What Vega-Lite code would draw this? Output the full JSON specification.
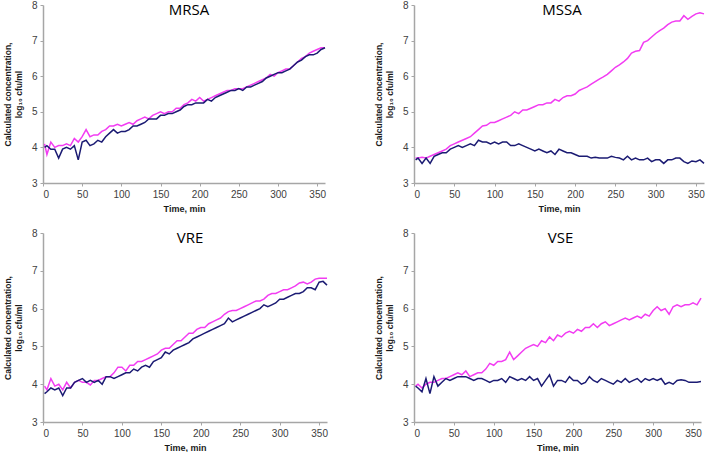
{
"$schema": "https://vega.github.io/schema/vega-lite/v6.json",
"background": "white",
"padding": {"left": 3, "top": 0, "right": 0, "bottom": 0},
"config": {
  "view": {"stroke": null},
  "axis": {"grid": false, "domainColor": "#a6a6a6", "domainWidth": 1.5, "tickColor": "#a6a6a6", "tickSize": 3, "labelFont": "Liberation Sans", "labelFontSize": 10, "labelColor": "#404040", "labelPadding": 3, "titleFont": "Liberation Sans", "titleFontSize": 8.5, "titleFontWeight": "bold", "titleColor": "#1a1a1a"},
  "axisX": {"titlePadding": 5, "titleFontSize": 9},
  "axisY": {"titlePadding": 8},
  "title": {"font": "Open Sans", "fontSize": 15, "fontWeight": "normal", "color": "#000000", "anchor": "middle", "frame": "group", "offset": -18}
},
"datasets": {
"MRSA": [
{"s":"c","t":2,"v":4.1},{"s":"c","t":5,"v":3.8},{"s":"c","t":10,"v":4.15},{"s":"c","t":15,"v":4.0},{"s":"c","t":20,"v":4.05},{"s":"c","t":25,"v":4.05},{"s":"c","t":30,"v":4.1},{"s":"c","t":35,"v":4.05},{"s":"c","t":40,"v":4.25},{"s":"c","t":45,"v":4.15},
{"s":"c","t":50,"v":4.3},{"s":"c","t":55,"v":4.5},{"s":"c","t":60,"v":4.3},{"s":"c","t":65,"v":4.35},{"s":"c","t":70,"v":4.35},{"s":"c","t":75,"v":4.45},{"s":"c","t":80,"v":4.5},{"s":"c","t":85,"v":4.6},{"s":"c","t":90,"v":4.6},{"s":"c","t":95,"v":4.65},
{"s":"c","t":100,"v":4.6},{"s":"c","t":105,"v":4.65},{"s":"c","t":110,"v":4.7},{"s":"c","t":115,"v":4.65},{"s":"c","t":120,"v":4.75},{"s":"c","t":125,"v":4.8},{"s":"c","t":130,"v":4.85},{"s":"c","t":135,"v":4.8},{"s":"c","t":140,"v":4.9},{"s":"c","t":145,"v":4.95},
{"s":"c","t":150,"v":5.0},{"s":"c","t":155,"v":4.95},{"s":"c","t":160,"v":5.0},{"s":"c","t":165,"v":5.0},{"s":"c","t":170,"v":5.1},{"s":"c","t":175,"v":5.1},{"s":"c","t":180,"v":5.2},{"s":"c","t":185,"v":5.25},{"s":"c","t":190,"v":5.35},{"s":"c","t":195,"v":5.3},
{"s":"c","t":200,"v":5.4},{"s":"c","t":205,"v":5.3},{"s":"c","t":210,"v":5.35},{"s":"c","t":215,"v":5.4},{"s":"c","t":220,"v":5.45},{"s":"c","t":225,"v":5.5},{"s":"c","t":230,"v":5.55},{"s":"c","t":235,"v":5.6},{"s":"c","t":240,"v":5.6},{"s":"c","t":245,"v":5.65},
{"s":"c","t":250,"v":5.65},{"s":"c","t":255,"v":5.65},{"s":"c","t":260,"v":5.7},{"s":"c","t":265,"v":5.75},{"s":"c","t":270,"v":5.8},{"s":"c","t":275,"v":5.85},{"s":"c","t":280,"v":5.9},{"s":"c","t":285,"v":5.95},{"s":"c","t":290,"v":6.05},{"s":"c","t":295,"v":6.0},
{"s":"c","t":300,"v":6.1},{"s":"c","t":305,"v":6.15},{"s":"c","t":310,"v":6.2},{"s":"c","t":315,"v":6.2},{"s":"c","t":320,"v":6.3},{"s":"c","t":325,"v":6.4},{"s":"c","t":330,"v":6.5},{"s":"c","t":335,"v":6.55},{"s":"c","t":340,"v":6.65},{"s":"c","t":345,"v":6.7},
{"s":"c","t":350,"v":6.75},{"s":"c","t":355,"v":6.8},{"s":"c","t":360,"v":6.8},
{"s":"d","t":2,"v":4.0},{"s":"d","t":5,"v":4.05},{"s":"d","t":10,"v":3.95},{"s":"d","t":15,"v":3.95},{"s":"d","t":20,"v":3.7},{"s":"d","t":25,"v":3.95},{"s":"d","t":30,"v":4.0},{"s":"d","t":35,"v":3.95},{"s":"d","t":40,"v":4.05},{"s":"d","t":45,"v":3.65},
{"s":"d","t":50,"v":4.15},{"s":"d","t":55,"v":4.2},{"s":"d","t":60,"v":4.05},{"s":"d","t":65,"v":4.1},{"s":"d","t":70,"v":4.2},{"s":"d","t":75,"v":4.15},{"s":"d","t":80,"v":4.3},{"s":"d","t":85,"v":4.4},{"s":"d","t":90,"v":4.5},{"s":"d","t":95,"v":4.4},
{"s":"d","t":100,"v":4.45},{"s":"d","t":105,"v":4.45},{"s":"d","t":110,"v":4.5},{"s":"d","t":115,"v":4.6},{"s":"d","t":120,"v":4.6},{"s":"d","t":125,"v":4.65},{"s":"d","t":130,"v":4.7},{"s":"d","t":135,"v":4.8},{"s":"d","t":140,"v":4.8},{"s":"d","t":145,"v":4.8},
{"s":"d","t":150,"v":4.9},{"s":"d","t":155,"v":4.9},{"s":"d","t":160,"v":4.95},{"s":"d","t":165,"v":4.95},{"s":"d","t":170,"v":5.0},{"s":"d","t":175,"v":5.05},{"s":"d","t":180,"v":5.15},{"s":"d","t":185,"v":5.2},{"s":"d","t":190,"v":5.2},{"s":"d","t":195,"v":5.25},
{"s":"d","t":200,"v":5.25},{"s":"d","t":205,"v":5.25},{"s":"d","t":210,"v":5.35},{"s":"d","t":215,"v":5.3},{"s":"d","t":220,"v":5.4},{"s":"d","t":225,"v":5.45},{"s":"d","t":230,"v":5.5},{"s":"d","t":235,"v":5.55},{"s":"d","t":240,"v":5.6},{"s":"d","t":245,"v":5.6},
{"s":"d","t":250,"v":5.65},{"s":"d","t":255,"v":5.6},{"s":"d","t":260,"v":5.7},{"s":"d","t":265,"v":5.7},{"s":"d","t":270,"v":5.75},{"s":"d","t":275,"v":5.8},{"s":"d","t":280,"v":5.85},{"s":"d","t":285,"v":5.95},{"s":"d","t":290,"v":6.0},{"s":"d","t":295,"v":6.05},
{"s":"d","t":300,"v":6.1},{"s":"d","t":305,"v":6.1},{"s":"d","t":310,"v":6.15},{"s":"d","t":315,"v":6.2},{"s":"d","t":320,"v":6.3},{"s":"d","t":325,"v":6.4},{"s":"d","t":330,"v":6.45},{"s":"d","t":335,"v":6.55},{"s":"d","t":340,"v":6.6},{"s":"d","t":345,"v":6.6},
{"s":"d","t":350,"v":6.65},{"s":"d","t":355,"v":6.75},{"s":"d","t":360,"v":6.8}
],
"MSSA": [
{"s":"c","t":2,"v":3.7},{"s":"c","t":5,"v":3.7},{"s":"c","t":10,"v":3.72},{"s":"c","t":15,"v":3.7},{"s":"c","t":20,"v":3.75},{"s":"c","t":25,"v":3.8},{"s":"c","t":30,"v":3.85},{"s":"c","t":35,"v":3.9},{"s":"c","t":40,"v":3.95},{"s":"c","t":45,"v":4.05},
{"s":"c","t":50,"v":4.1},{"s":"c","t":55,"v":4.15},{"s":"c","t":60,"v":4.2},{"s":"c","t":65,"v":4.25},{"s":"c","t":70,"v":4.3},{"s":"c","t":75,"v":4.4},{"s":"c","t":80,"v":4.5},{"s":"c","t":85,"v":4.6},{"s":"c","t":90,"v":4.62},{"s":"c","t":95,"v":4.7},
{"s":"c","t":100,"v":4.7},{"s":"c","t":105,"v":4.75},{"s":"c","t":110,"v":4.8},{"s":"c","t":115,"v":4.85},{"s":"c","t":120,"v":4.9},{"s":"c","t":125,"v":5.0},{"s":"c","t":130,"v":4.95},{"s":"c","t":135,"v":5.05},{"s":"c","t":140,"v":5.05},{"s":"c","t":145,"v":5.1},
{"s":"c","t":150,"v":5.15},{"s":"c","t":155,"v":5.2},{"s":"c","t":160,"v":5.2},{"s":"c","t":165,"v":5.25},{"s":"c","t":170,"v":5.25},{"s":"c","t":175,"v":5.35},{"s":"c","t":180,"v":5.3},{"s":"c","t":185,"v":5.4},{"s":"c","t":190,"v":5.45},{"s":"c","t":195,"v":5.45},
{"s":"c","t":200,"v":5.5},{"s":"c","t":205,"v":5.6},{"s":"c","t":210,"v":5.65},{"s":"c","t":215,"v":5.7},{"s":"c","t":220,"v":5.78},{"s":"c","t":225,"v":5.85},{"s":"c","t":230,"v":5.92},{"s":"c","t":235,"v":5.98},{"s":"c","t":240,"v":6.05},{"s":"c","t":245,"v":6.15},
{"s":"c","t":250,"v":6.25},{"s":"c","t":255,"v":6.32},{"s":"c","t":260,"v":6.4},{"s":"c","t":265,"v":6.5},{"s":"c","t":270,"v":6.65},{"s":"c","t":275,"v":6.7},{"s":"c","t":280,"v":6.72},{"s":"c","t":285,"v":6.95},{"s":"c","t":290,"v":7.0},{"s":"c","t":295,"v":7.1},
{"s":"c","t":300,"v":7.2},{"s":"c","t":305,"v":7.28},{"s":"c","t":310,"v":7.35},{"s":"c","t":315,"v":7.45},{"s":"c","t":320,"v":7.52},{"s":"c","t":325,"v":7.55},{"s":"c","t":330,"v":7.55},{"s":"c","t":335,"v":7.7},{"s":"c","t":340,"v":7.6},{"s":"c","t":345,"v":7.68},
{"s":"c","t":350,"v":7.75},{"s":"c","t":355,"v":7.78},{"s":"c","t":360,"v":7.75},
{"s":"d","t":2,"v":3.65},{"s":"d","t":5,"v":3.7},{"s":"d","t":10,"v":3.55},{"s":"d","t":15,"v":3.7},{"s":"d","t":20,"v":3.55},{"s":"d","t":25,"v":3.75},{"s":"d","t":30,"v":3.8},{"s":"d","t":35,"v":3.85},{"s":"d","t":40,"v":3.85},{"s":"d","t":45,"v":3.95},
{"s":"d","t":50,"v":4.0},{"s":"d","t":55,"v":4.05},{"s":"d","t":60,"v":4.0},{"s":"d","t":65,"v":4.05},{"s":"d","t":70,"v":4.1},{"s":"d","t":75,"v":4.05},{"s":"d","t":80,"v":4.2},{"s":"d","t":85,"v":4.15},{"s":"d","t":90,"v":4.15},{"s":"d","t":95,"v":4.1},
{"s":"d","t":100,"v":4.15},{"s":"d","t":105,"v":4.1},{"s":"d","t":110,"v":4.15},{"s":"d","t":115,"v":4.15},{"s":"d","t":120,"v":4.05},{"s":"d","t":125,"v":4.05},{"s":"d","t":130,"v":4.1},{"s":"d","t":135,"v":4.05},{"s":"d","t":140,"v":4.0},{"s":"d","t":145,"v":3.95},
{"s":"d","t":150,"v":3.9},{"s":"d","t":155,"v":3.95},{"s":"d","t":160,"v":3.9},{"s":"d","t":165,"v":3.85},{"s":"d","t":170,"v":3.9},{"s":"d","t":175,"v":3.8},{"s":"d","t":180,"v":3.95},{"s":"d","t":185,"v":3.9},{"s":"d","t":190,"v":3.85},{"s":"d","t":195,"v":3.85},
{"s":"d","t":200,"v":3.8},{"s":"d","t":205,"v":3.75},{"s":"d","t":210,"v":3.75},{"s":"d","t":215,"v":3.75},{"s":"d","t":220,"v":3.7},{"s":"d","t":225,"v":3.72},{"s":"d","t":230,"v":3.7},{"s":"d","t":235,"v":3.7},{"s":"d","t":240,"v":3.7},{"s":"d","t":245,"v":3.75},
{"s":"d","t":250,"v":3.72},{"s":"d","t":255,"v":3.7},{"s":"d","t":260,"v":3.65},{"s":"d","t":265,"v":3.75},{"s":"d","t":270,"v":3.65},{"s":"d","t":275,"v":3.7},{"s":"d","t":280,"v":3.65},{"s":"d","t":285,"v":3.65},{"s":"d","t":290,"v":3.7},{"s":"d","t":295,"v":3.6},
{"s":"d","t":300,"v":3.65},{"s":"d","t":305,"v":3.65},{"s":"d","t":310,"v":3.55},{"s":"d","t":315,"v":3.65},{"s":"d","t":320,"v":3.65},{"s":"d","t":325,"v":3.7},{"s":"d","t":330,"v":3.7},{"s":"d","t":335,"v":3.6},{"s":"d","t":340,"v":3.55},{"s":"d","t":345,"v":3.62},
{"s":"d","t":350,"v":3.6},{"s":"d","t":355,"v":3.65},{"s":"d","t":360,"v":3.55}
],
"VRE": [
{"s":"c","t":2,"v":3.95},{"s":"c","t":5,"v":3.85},{"s":"c","t":10,"v":4.15},{"s":"c","t":15,"v":3.95},{"s":"c","t":20,"v":4.0},{"s":"c","t":25,"v":3.85},{"s":"c","t":30,"v":4.05},{"s":"c","t":35,"v":3.9},{"s":"c","t":40,"v":4.05},{"s":"c","t":45,"v":4.1},
{"s":"c","t":50,"v":4.05},{"s":"c","t":55,"v":4.05},{"s":"c","t":60,"v":3.98},{"s":"c","t":65,"v":4.1},{"s":"c","t":70,"v":4.1},{"s":"c","t":75,"v":4.15},{"s":"c","t":80,"v":4.2},{"s":"c","t":85,"v":4.2},{"s":"c","t":90,"v":4.3},{"s":"c","t":95,"v":4.45},
{"s":"c","t":100,"v":4.45},{"s":"c","t":105,"v":4.35},{"s":"c","t":110,"v":4.5},{"s":"c","t":115,"v":4.5},{"s":"c","t":120,"v":4.6},{"s":"c","t":125,"v":4.6},{"s":"c","t":130,"v":4.65},{"s":"c","t":135,"v":4.7},{"s":"c","t":140,"v":4.75},{"s":"c","t":145,"v":4.8},
{"s":"c","t":150,"v":4.9},{"s":"c","t":155,"v":4.95},{"s":"c","t":160,"v":4.95},{"s":"c","t":165,"v":5.05},{"s":"c","t":170,"v":5.15},{"s":"c","t":175,"v":5.15},{"s":"c","t":180,"v":5.25},{"s":"c","t":185,"v":5.35},{"s":"c","t":190,"v":5.35},{"s":"c","t":195,"v":5.45},
{"s":"c","t":200,"v":5.5},{"s":"c","t":205,"v":5.5},{"s":"c","t":210,"v":5.6},{"s":"c","t":215,"v":5.65},{"s":"c","t":220,"v":5.7},{"s":"c","t":225,"v":5.75},{"s":"c","t":230,"v":5.85},{"s":"c","t":235,"v":5.92},{"s":"c","t":240,"v":5.95},{"s":"c","t":245,"v":5.95},
{"s":"c","t":250,"v":6.0},{"s":"c","t":255,"v":6.05},{"s":"c","t":260,"v":6.1},{"s":"c","t":265,"v":6.15},{"s":"c","t":270,"v":6.2},{"s":"c","t":275,"v":6.2},{"s":"c","t":280,"v":6.25},{"s":"c","t":285,"v":6.35},{"s":"c","t":290,"v":6.4},{"s":"c","t":295,"v":6.4},
{"s":"c","t":300,"v":6.45},{"s":"c","t":305,"v":6.5},{"s":"c","t":310,"v":6.5},{"s":"c","t":315,"v":6.55},{"s":"c","t":320,"v":6.6},{"s":"c","t":325,"v":6.68},{"s":"c","t":330,"v":6.7},{"s":"c","t":335,"v":6.65},{"s":"c","t":340,"v":6.7},{"s":"c","t":345,"v":6.78},
{"s":"c","t":350,"v":6.8},{"s":"c","t":355,"v":6.8},{"s":"c","t":360,"v":6.8},
{"s":"d","t":2,"v":3.75},{"s":"d","t":5,"v":3.8},{"s":"d","t":10,"v":3.9},{"s":"d","t":15,"v":3.85},{"s":"d","t":20,"v":3.9},{"s":"d","t":25,"v":3.7},{"s":"d","t":30,"v":3.9},{"s":"d","t":35,"v":3.9},{"s":"d","t":40,"v":4.05},{"s":"d","t":45,"v":4.1},
{"s":"d","t":50,"v":4.15},{"s":"d","t":55,"v":4.05},{"s":"d","t":60,"v":4.1},{"s":"d","t":65,"v":4.05},{"s":"d","t":70,"v":4.1},{"s":"d","t":75,"v":4.0},{"s":"d","t":80,"v":4.2},{"s":"d","t":85,"v":4.2},{"s":"d","t":90,"v":4.15},{"s":"d","t":95,"v":4.2},
{"s":"d","t":100,"v":4.25},{"s":"d","t":105,"v":4.3},{"s":"d","t":110,"v":4.3},{"s":"d","t":115,"v":4.4},{"s":"d","t":120,"v":4.35},{"s":"d","t":125,"v":4.45},{"s":"d","t":130,"v":4.5},{"s":"d","t":135,"v":4.45},{"s":"d","t":140,"v":4.6},{"s":"d","t":145,"v":4.65},
{"s":"d","t":150,"v":4.7},{"s":"d","t":155,"v":4.85},{"s":"d","t":160,"v":4.8},{"s":"d","t":165,"v":4.9},{"s":"d","t":170,"v":4.95},{"s":"d","t":175,"v":5.0},{"s":"d","t":180,"v":5.05},{"s":"d","t":185,"v":5.1},{"s":"d","t":190,"v":5.2},{"s":"d","t":195,"v":5.25},
{"s":"d","t":200,"v":5.3},{"s":"d","t":205,"v":5.35},{"s":"d","t":210,"v":5.4},{"s":"d","t":215,"v":5.45},{"s":"d","t":220,"v":5.5},{"s":"d","t":225,"v":5.55},{"s":"d","t":230,"v":5.6},{"s":"d","t":235,"v":5.75},{"s":"d","t":240,"v":5.65},{"s":"d","t":245,"v":5.7},
{"s":"d","t":250,"v":5.75},{"s":"d","t":255,"v":5.8},{"s":"d","t":260,"v":5.85},{"s":"d","t":265,"v":5.9},{"s":"d","t":270,"v":5.95},{"s":"d","t":275,"v":6.0},{"s":"d","t":280,"v":6.1},{"s":"d","t":285,"v":6.05},{"s":"d","t":290,"v":6.1},{"s":"d","t":295,"v":6.15},
{"s":"d","t":300,"v":6.25},{"s":"d","t":305,"v":6.25},{"s":"d","t":310,"v":6.3},{"s":"d","t":315,"v":6.35},{"s":"d","t":320,"v":6.4},{"s":"d","t":325,"v":6.4},{"s":"d","t":330,"v":6.45},{"s":"d","t":335,"v":6.55},{"s":"d","t":340,"v":6.55},{"s":"d","t":345,"v":6.5},
{"s":"d","t":350,"v":6.7},{"s":"d","t":355,"v":6.72},{"s":"d","t":360,"v":6.62}
],
"VSE": [
{"s":"c","t":2,"v":3.95},{"s":"c","t":5,"v":4.0},{"s":"c","t":10,"v":3.9},{"s":"c","t":15,"v":4.0},{"s":"c","t":20,"v":4.05},{"s":"c","t":25,"v":4.05},{"s":"c","t":30,"v":4.1},{"s":"c","t":35,"v":4.15},{"s":"c","t":40,"v":4.15},{"s":"c","t":45,"v":4.2},
{"s":"c","t":50,"v":4.25},{"s":"c","t":55,"v":4.3},{"s":"c","t":60,"v":4.25},{"s":"c","t":65,"v":4.35},{"s":"c","t":70,"v":4.2},{"s":"c","t":75,"v":4.25},{"s":"c","t":80,"v":4.3},{"s":"c","t":85,"v":4.3},{"s":"c","t":90,"v":4.4},{"s":"c","t":95,"v":4.55},
{"s":"c","t":100,"v":4.5},{"s":"c","t":105,"v":4.6},{"s":"c","t":110,"v":4.6},{"s":"c","t":115,"v":4.65},{"s":"c","t":120,"v":4.85},{"s":"c","t":125,"v":4.65},{"s":"c","t":130,"v":4.75},{"s":"c","t":135,"v":4.85},{"s":"c","t":140,"v":4.95},{"s":"c","t":145,"v":5.0},
{"s":"c","t":150,"v":5.05},{"s":"c","t":155,"v":5.0},{"s":"c","t":160,"v":5.15},{"s":"c","t":165,"v":5.1},{"s":"c","t":170,"v":5.25},{"s":"c","t":175,"v":5.15},{"s":"c","t":180,"v":5.3},{"s":"c","t":185,"v":5.25},{"s":"c","t":190,"v":5.35},{"s":"c","t":195,"v":5.4},
{"s":"c","t":200,"v":5.35},{"s":"c","t":205,"v":5.45},{"s":"c","t":210,"v":5.4},{"s":"c","t":215,"v":5.5},{"s":"c","t":220,"v":5.5},{"s":"c","t":225,"v":5.6},{"s":"c","t":230,"v":5.5},{"s":"c","t":235,"v":5.6},{"s":"c","t":240,"v":5.65},{"s":"c","t":245,"v":5.55},
{"s":"c","t":250,"v":5.6},{"s":"c","t":255,"v":5.65},{"s":"c","t":260,"v":5.7},{"s":"c","t":265,"v":5.75},{"s":"c","t":270,"v":5.7},{"s":"c","t":275,"v":5.75},{"s":"c","t":280,"v":5.8},{"s":"c","t":285,"v":5.75},{"s":"c","t":290,"v":5.85},{"s":"c","t":295,"v":5.8},
{"s":"c","t":300,"v":5.95},{"s":"c","t":305,"v":6.05},{"s":"c","t":310,"v":5.95},{"s":"c","t":315,"v":6.0},{"s":"c","t":320,"v":5.85},{"s":"c","t":325,"v":6.05},{"s":"c","t":330,"v":6.1},{"s":"c","t":335,"v":6.05},{"s":"c","t":340,"v":6.1},{"s":"c","t":345,"v":6.1},
{"s":"c","t":350,"v":6.15},{"s":"c","t":355,"v":6.1},{"s":"c","t":360,"v":6.28},
{"s":"d","t":2,"v":3.95},{"s":"d","t":5,"v":3.9},{"s":"d","t":10,"v":3.8},{"s":"d","t":15,"v":4.15},{"s":"d","t":20,"v":3.75},{"s":"d","t":25,"v":4.2},{"s":"d","t":30,"v":3.95},{"s":"d","t":35,"v":4.05},{"s":"d","t":40,"v":4.15},{"s":"d","t":45,"v":4.1},
{"s":"d","t":50,"v":4.15},{"s":"d","t":55,"v":4.2},{"s":"d","t":60,"v":4.2},{"s":"d","t":65,"v":4.2},{"s":"d","t":70,"v":4.15},{"s":"d","t":75,"v":4.1},{"s":"d","t":80,"v":4.15},{"s":"d","t":85,"v":4.15},{"s":"d","t":90,"v":4.1},{"s":"d","t":95,"v":4.05},
{"s":"d","t":100,"v":4.1},{"s":"d","t":105,"v":4.1},{"s":"d","t":110,"v":4.15},{"s":"d","t":115,"v":4.05},{"s":"d","t":120,"v":4.2},{"s":"d","t":125,"v":4.15},{"s":"d","t":130,"v":4.1},{"s":"d","t":135,"v":4.15},{"s":"d","t":140,"v":4.1},{"s":"d","t":145,"v":4.2},
{"s":"d","t":150,"v":4.1},{"s":"d","t":155,"v":4.15},{"s":"d","t":160,"v":3.95},{"s":"d","t":165,"v":4.1},{"s":"d","t":170,"v":4.25},{"s":"d","t":175,"v":3.95},{"s":"d","t":180,"v":4.1},{"s":"d","t":185,"v":4.1},{"s":"d","t":190,"v":4.05},{"s":"d","t":195,"v":4.2},
{"s":"d","t":200,"v":4.1},{"s":"d","t":205,"v":4.1},{"s":"d","t":210,"v":4.0},{"s":"d","t":215,"v":4.05},{"s":"d","t":220,"v":4.2},{"s":"d","t":225,"v":4.1},{"s":"d","t":230,"v":4.05},{"s":"d","t":235,"v":4.15},{"s":"d","t":240,"v":4.1},{"s":"d","t":245,"v":4.05},
{"s":"d","t":250,"v":4.0},{"s":"d","t":255,"v":4.1},{"s":"d","t":260,"v":4.05},{"s":"d","t":265,"v":4.15},{"s":"d","t":270,"v":4.05},{"s":"d","t":275,"v":4.1},{"s":"d","t":280,"v":4.15},{"s":"d","t":285,"v":4.05},{"s":"d","t":290,"v":4.15},{"s":"d","t":295,"v":4.1},
{"s":"d","t":300,"v":4.15},{"s":"d","t":305,"v":4.1},{"s":"d","t":310,"v":4.15},{"s":"d","t":315,"v":4.0},{"s":"d","t":320,"v":4.05},{"s":"d","t":325,"v":4.0},{"s":"d","t":330,"v":4.1},{"s":"d","t":335,"v":4.12},{"s":"d","t":340,"v":4.1},{"s":"d","t":345,"v":4.05},
{"s":"d","t":350,"v":4.05},{"s":"d","t":355,"v":4.05},{"s":"d","t":360,"v":4.07}
]
},
"columns": 2,
"spacing": {"row": 15, "column": 44},
"concat": [
{"data": {"name": "MRSA"}, "width": 282, "height": 178, "title": {"text": "MRSA", "dx": 5},
 "mark": {"type": "line", "strokeWidth": 1.5},
 "encoding": {
  "x": {"field": "t", "type": "quantitative", "scale": {"domain": [0, 360], "nice": false}, "axis": {"values": [0,50,100,150,200,250,300,350], "title": "Time, min"}},
  "y": {"field": "v", "type": "quantitative", "scale": {"domain": [3, 8], "nice": false}, "axis": {"values": [3,4,5,6,7,8], "title": ["Calculated concentration,", "log₁₀ cfu/ml"]}},
  "color": {"field": "s", "type": "nominal", "scale": {"domain": ["c", "d"], "range": ["#f23cf2", "#1b1b73"]}, "legend": null}}},
{"data": {"name": "MSSA"}, "width": 290, "height": 178, "title": {"text": "MSSA", "dx": 3},
 "mark": {"type": "line", "strokeWidth": 1.5},
 "encoding": {
  "x": {"field": "t", "type": "quantitative", "scale": {"domain": [0, 360], "nice": false}, "axis": {"values": [0,50,100,150,200,250,300,350], "title": "Time, min"}},
  "y": {"field": "v", "type": "quantitative", "scale": {"domain": [3, 8], "nice": false}, "axis": {"values": [3,4,5,6,7,8], "title": ["Calculated concentration,", "log₁₀ cfu/ml"]}},
  "color": {"field": "s", "type": "nominal", "scale": {"domain": ["c", "d"], "range": ["#f23cf2", "#1b1b73"]}, "legend": null}}},
{"data": {"name": "VRE"}, "width": 284, "height": 189, "title": {"text": "VRE", "dx": 5},
 "mark": {"type": "line", "strokeWidth": 1.5},
 "encoding": {
  "x": {"field": "t", "type": "quantitative", "scale": {"domain": [0, 360], "nice": false}, "axis": {"values": [0,50,100,150,200,250,300,350], "title": "Time, min"}},
  "y": {"field": "v", "type": "quantitative", "scale": {"domain": [3, 8], "nice": false}, "axis": {"values": [3,4,5,6,7,8], "title": ["Calculated concentration,", "log₁₀ cfu/ml"]}},
  "color": {"field": "s", "type": "nominal", "scale": {"domain": ["c", "d"], "range": ["#f23cf2", "#1b1b73"]}, "legend": null}}},
{"data": {"name": "VSE"}, "width": 287, "height": 189, "title": {"text": "VSE", "dx": 3},
 "mark": {"type": "line", "strokeWidth": 1.5},
 "encoding": {
  "x": {"field": "t", "type": "quantitative", "scale": {"domain": [0, 360], "nice": false}, "axis": {"values": [0,50,100,150,200,250,300,350], "title": "Time, min"}},
  "y": {"field": "v", "type": "quantitative", "scale": {"domain": [3, 8], "nice": false}, "axis": {"values": [3,4,5,6,7,8], "title": ["Calculated concentration,", "log₁₀ cfu/ml"]}},
  "color": {"field": "s", "type": "nominal", "scale": {"domain": ["c", "d"], "range": ["#f23cf2", "#1b1b73"]}, "legend": null}}}
]
}
